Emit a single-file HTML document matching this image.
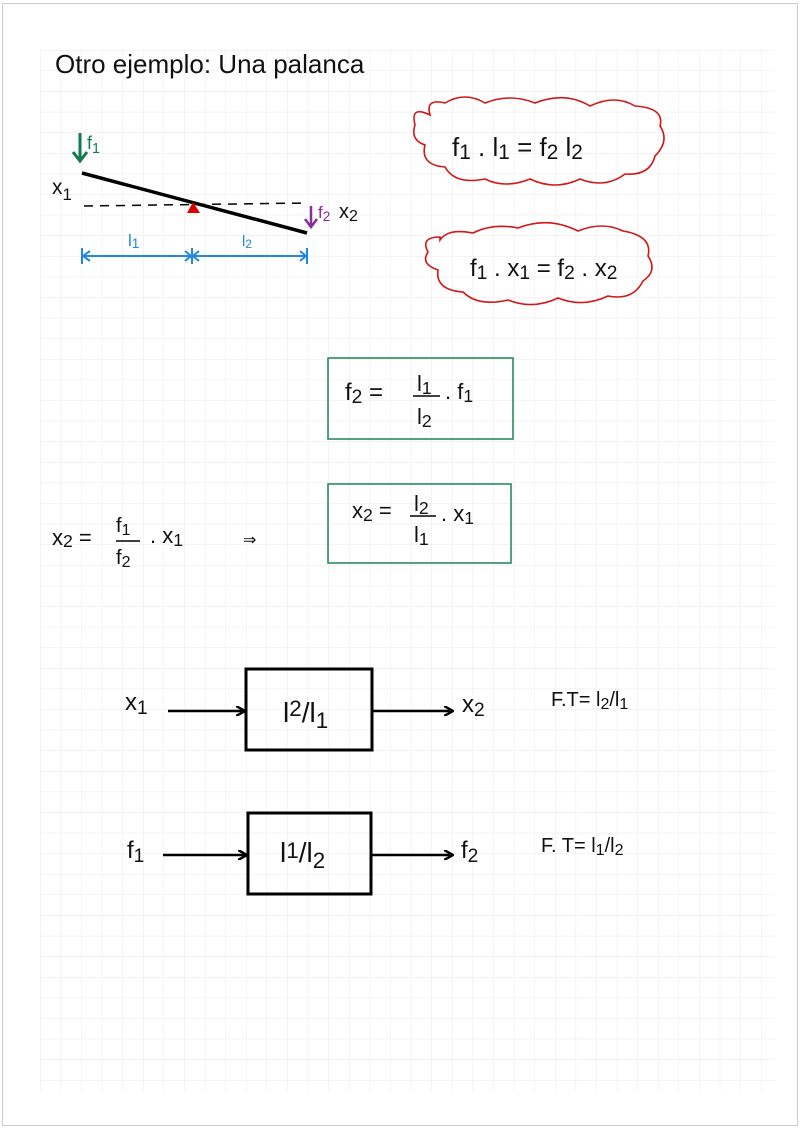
<!DOCTYPE html>
<html><head><meta charset="utf-8"><style>
html,body{margin:0;padding:0;background:#fff;}
svg{display:block;}
text{font-family:"Liberation Sans",sans-serif;fill:#111;}
.s{font-size:0.8em;}
</style></head><body>
<svg width="800" height="1128" viewBox="0 0 800 1128" xmlns="http://www.w3.org/2000/svg">
<defs>
<pattern id="g" x="40" y="50" width="20.6" height="20.6" patternUnits="userSpaceOnUse">
<path d="M0 0H20.6M0 0V20.6" stroke="#e8e8e8" stroke-width="1" fill="none"/>
</pattern>
<marker id="ah" markerWidth="10" markerHeight="10" refX="9" refY="5" orient="auto" markerUnits="userSpaceOnUse">
<path d="M0 0L9 5L0 10" fill="none" stroke="#000" stroke-width="2.5"/>
</marker>
</defs>
<rect x="2.5" y="3.5" width="795" height="1122" fill="#fff" stroke="#ccc"/>
<rect x="40" y="50" width="735" height="1040" fill="url(#g)"/>

<text x="55" y="73" font-size="26">Otro ejemplo: Una palanca</text>

<!-- lever -->
<line x1="82" y1="173" x2="307" y2="233" stroke="#000" stroke-width="3.5"/>
<line x1="84" y1="206" x2="307" y2="203" stroke="#000" stroke-width="1.5" stroke-dasharray="9,7"/>
<path d="M187 213L193 202L200 213Z" fill="#d00"/>
<path d="M80 133V160M73 152L80 161L87 152" stroke="#137a52" stroke-width="3" fill="none"/>
<text x="87" y="149" font-size="18" style="fill:#137a52">f<tspan class="s" dy="4">1</tspan></text>
<text x="52" y="194" font-size="21">x<tspan class="s" dy="6">1</tspan></text>
<path d="M311 206V226M305 219L311 227L317 219" stroke="#8a2d9a" stroke-width="2.5" fill="none"/>
<text x="318" y="218" font-size="17" style="fill:#8a2d9a">f<tspan class="s" dy="3">2</tspan></text>
<text x="339" y="218" font-size="20">x<tspan class="s" dy="3">2</tspan></text>
<g stroke="#1e88e5" stroke-width="2" fill="none">
<line x1="82" y1="256" x2="307" y2="256"/>
<line x1="82" y1="248" x2="82" y2="264"/><line x1="192" y1="248" x2="192" y2="264"/><line x1="307" y1="248" x2="307" y2="264"/>
<path d="M90 251L83 256L90 261M185 251L191 256L185 261M199 251L193 256L199 261M300 251L306 256L300 261"/>
</g>
<text x="128" y="246" font-size="17" style="fill:#1e88e5">l<tspan class="s" dy="2">1</tspan></text>
<text x="242" y="246" font-size="15" style="fill:#1e88e5">l<tspan class="s" dy="2">2</tspan></text>

<!-- clouds -->
<g fill="none" stroke="#d01818" stroke-width="1.6">
<path d="M430 115 q-20 -10 -15 10 q-5 15 10 20 q-5 20 20 22 q10 18 40 12 q20 10 45 0 q25 12 50 0 q25 10 45 -5 q25 2 30 -18 q15 -15 5 -30 q5 -18 -25 -20 q-20 -12 -45 0 q-25 -15 -55 -3 q-25 -10 -50 0 q-20 -12 -40 0 q-20 -5 -15 12z"/>
<path d="M440 237 q-20 0 -12 15 q-8 12 10 18 q-3 20 25 22 q15 15 45 8 q25 10 50 -2 q25 10 50 -2 q25 5 35 -15 q15 -10 5 -25 q5 -20 -25 -25 q-20 -10 -45 0 q-30 -15 -60 -3 q-25 -5 -45 5 q-25 -5 -33 7z"/>
</g>
<text x="452" y="156" font-size="26">f<tspan class="s" dy="3">1</tspan><tspan dy="-3"> . l</tspan><tspan class="s" dy="3">1</tspan><tspan dy="-3"> = f</tspan><tspan class="s" dy="3">2</tspan><tspan dy="-3"> l</tspan><tspan class="s" dy="3">2</tspan></text>
<text x="470" y="276" font-size="24">f<tspan class="s" dy="3">1</tspan><tspan dy="-3"> . x</tspan><tspan class="s" dy="3">1</tspan><tspan dy="-3"> = f</tspan><tspan class="s" dy="3">2</tspan><tspan dy="-3"> . x</tspan><tspan class="s" dy="3">2</tspan></text>

<!-- boxes -->
<rect x="328" y="358" width="185" height="81" fill="none" stroke="#2a8a5e" stroke-width="1.6"/>
<text x="345" y="400" font-size="24">f<tspan class="s" dy="3">2</tspan><tspan dy="-3"> =</tspan></text>
<text x="417" y="391" font-size="22">l<tspan class="s" dy="3">1</tspan></text>
<line x1="413" y1="396" x2="440" y2="396" stroke="#000" stroke-width="1.5"/>
<text x="417" y="424" font-size="22">l<tspan class="s" dy="3">2</tspan></text>
<text x="445" y="399" font-size="22">. f<tspan class="s" dy="3">1</tspan></text>

<rect x="328" y="484" width="183" height="79" fill="none" stroke="#2a8a5e" stroke-width="1.6"/>
<text x="352" y="518" font-size="22">x<tspan class="s" dy="3">2</tspan><tspan dy="-3"> =</tspan></text>
<text x="414" y="511" font-size="22">l<tspan class="s" dy="3">2</tspan></text>
<line x1="410" y1="516" x2="436" y2="516" stroke="#000" stroke-width="1.5"/>
<text x="414" y="542" font-size="22">l<tspan class="s" dy="3">1</tspan></text>
<text x="441" y="521" font-size="22">. x<tspan class="s" dy="3">1</tspan></text>

<text x="52" y="545" font-size="22">x<tspan class="s" dy="2">2</tspan><tspan dy="-2"> =</tspan></text>
<text x="116" y="532" font-size="20">f<tspan class="s" dy="3">1</tspan></text>
<line x1="116" y1="541" x2="140" y2="541" stroke="#000" stroke-width="1.5"/>
<text x="116" y="564" font-size="20">f<tspan class="s" dy="3">2</tspan></text>
<text x="150" y="543" font-size="22">. x<tspan class="s" dy="3">1</tspan></text>
<text x="243" y="545" font-size="16">⇒</text>

<!-- block diagrams -->
<rect x="246" y="669" width="126" height="81" fill="none" stroke="#000" stroke-width="3"/>
<line x1="168" y1="711" x2="245" y2="711" stroke="#000" stroke-width="2.5" marker-end="url(#ah)"/>
<line x1="373" y1="711" x2="453" y2="711" stroke="#000" stroke-width="2.5" marker-end="url(#ah)"/>
<text x="125" y="710" font-size="24">x<tspan class="s" dy="4">1</tspan></text>
<text x="462" y="712" font-size="24">x<tspan class="s" dy="4">2</tspan></text>
<text x="283" y="722" font-size="28">l<tspan class="s" dy="-6">2</tspan><tspan dy="6">/l</tspan><tspan class="s" dy="6">1</tspan></text>
<text x="551" y="706" font-size="20">F.T= l<tspan class="s" dy="3">2</tspan><tspan dy="-3">/l</tspan><tspan class="s" dy="3">1</tspan></text>

<rect x="248" y="813" width="123" height="81" fill="none" stroke="#000" stroke-width="3"/>
<line x1="163" y1="855" x2="247" y2="855" stroke="#000" stroke-width="2.5" marker-end="url(#ah)"/>
<line x1="372" y1="855" x2="453" y2="855" stroke="#000" stroke-width="2.5" marker-end="url(#ah)"/>
<text x="127" y="858" font-size="24">f<tspan class="s" dy="4">1</tspan></text>
<text x="461" y="858" font-size="24">f<tspan class="s" dy="4">2</tspan></text>
<text x="280" y="862" font-size="28">l<tspan class="s" dy="-4">1</tspan><tspan dy="4">/l</tspan><tspan class="s" dy="6">2</tspan></text>
<text x="541" y="852" font-size="20">F. T= l<tspan class="s" dy="3">1</tspan><tspan dy="-3">/l</tspan><tspan class="s" dy="3">2</tspan></text>
</svg>
</body></html>
